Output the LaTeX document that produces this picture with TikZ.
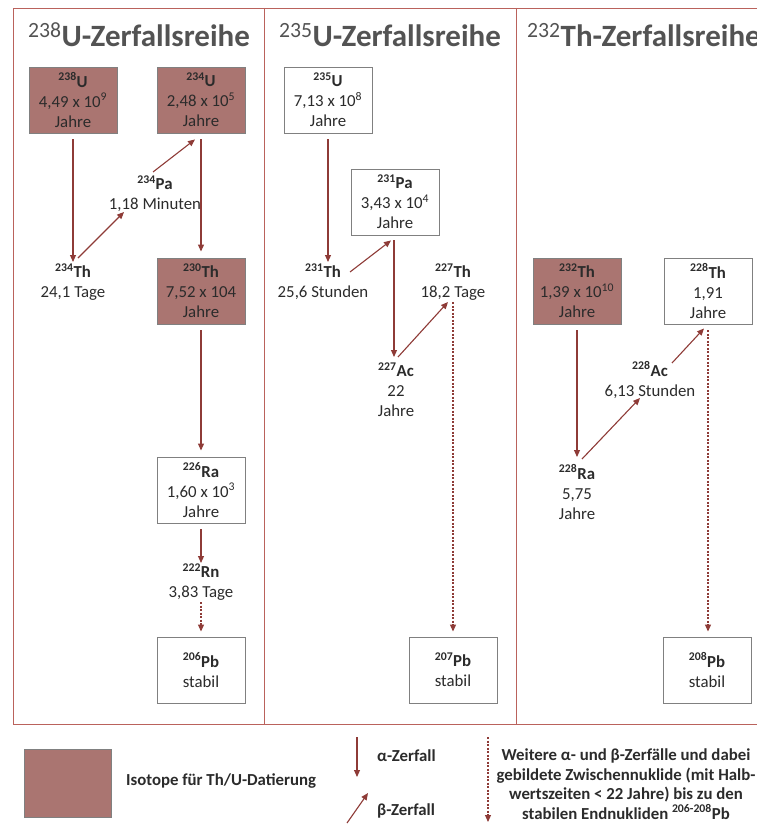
\documentclass[tikz,border=0pt]{standalone}
\usepackage{fontspec}
\setmainfont{Carlito}
\usepackage{tikz}
\usetikzlibrary{arrows.meta,calc}
\definecolor{zerfallRahmen}{HTML}{BA625C}
\definecolor{zerfallPfeil}{HTML}{8E3B37}
\definecolor{zerfallFuell}{HTML}{AA7571}
\definecolor{zerfallBoxRand}{HTML}{808080}
\definecolor{zerfallTitel}{HTML}{535353}
\definecolor{zerfallText}{HTML}{2B2B2B}
\newcommand{\nuk}[2]{\textbf{\textsuperscript{#1}#2}}

\begin{document}
\begin{tikzpicture}[x=1pt, y=-1pt,
  kasten/.style={draw=zerfallBoxRand, line width=0.9pt, fill=white, minimum width=88pt,
    minimum height=66pt, inner sep=0pt, align=center, text=zerfallText,
    font=\fontsize{16.8}{20}\selectfont},
  datiert/.style={kasten, fill=zerfallFuell},
  frei/.style={inner sep=0pt, align=center, text=zerfallText, font=\fontsize{16.8}{20}\selectfont},
  titel/.style={inner sep=0pt, text=zerfallTitel, font=\fontsize{31}{31}\selectfont\bfseries},
  legende/.style={inner sep=0pt, align=center, text=zerfallText, font=\fontsize{16.8}{19.5}\selectfont\bfseries},
  rahmen/.style={draw=zerfallRahmen, line width=0.9pt},
  pfeil/.style={draw=zerfallPfeil, line width=1.1pt, -{Triangle[length=7pt,width=6pt]}},
  weiter/.style={pfeil, dash pattern=on 2pt off 1.5pt},
]
  \useasboundingbox (0,0) rectangle (757,824);
  \clip (0,0) rectangle (757,824);

  % Rahmen und Spalten
  \draw[rahmen] (13,8) rectangle (800,724);
  \draw[rahmen] (264,8) -- (264,724);
  \draw[rahmen] (516,8) -- (516,724);

  % Titel
  \node[titel, anchor=base] (titelUa) at (139,47) {{\mdseries\textsuperscript{238}}U-Zerfallsreihe};
  \node[titel, anchor=base] (titelUb) at (390,47) {{\mdseries\textsuperscript{235}}U-Zerfallsreihe};
  \node[titel, anchor=base] (titelTh) at (644,47) {{\mdseries\textsuperscript{232}}Th-Zerfallsreihe};

  % 238U-Reihe
  \node[datiert] (u238) at (73,100) {\nuk{238}{U}\\4,49 x 10\textsuperscript{9}\\Jahre};
  \node[datiert] (u234) at (201,100) {\nuk{234}{U}\\2,48 x 10\textsuperscript{5}\\Jahre};
  \node[frei] (pa234) at (155,194) {\nuk{234}{Pa}\\1,18 Minuten};
  \node[frei] (th234) at (73,282) {\nuk{234}{Th}\\24,1 Tage};
  \node[datiert] (th230) at (201,291) {\nuk{230}{Th}\\7,52 x 104\\Jahre};
  \node[kasten] (ra226) at (201,490) {\nuk{226}{Ra}\\1,60 x 10\textsuperscript{3}\\Jahre};
  \node[frei] (rn222) at (201,582) {\nuk{222}{Rn}\\3,83 Tage};
  \node[kasten] (pb206) at (201,670) {\nuk{206}{Pb}\\stabil};

  \draw[pfeil] ($(u238.south)+(0,6)$) -- ($(th234.center)+(0,-20)$);
  \draw[pfeil] ($(th234.center)+(5,-24)$) -- ($(pa234.center)+(-31,18)$);
  \draw[pfeil] ($(pa234.center)+(-2,-22)$) -- ($(u234.south)+(-6,6)$);
  \draw[pfeil] ($(u234.south)+(0,6)$) -- ($(th230.north)+(0,-6)$);
  \draw[pfeil] ($(th230.south)+(0,6)$) -- ($(ra226.north)+(0,-6)$);
  \draw[pfeil] ($(ra226.south)+(0,6)$) -- ($(rn222.center)+(0,-19)$);
  \draw[weiter] ($(rn222.center)+(0,20)$) -- ($(pb206.north)+(0,-5)$);

  % 235U-Reihe
  \node[kasten] (u235) at (328,100) {\nuk{235}{U}\\7,13 x 10\textsuperscript{8}\\Jahre};
  \node[kasten] (pa231) at (395,202) {\nuk{231}{Pa}\\3,43 x 10\textsuperscript{4}\\Jahre};
  \node[frei] (th231) at (323,282) {\nuk{231}{Th}\\25,6 Stunden};
  \node[frei] (th227) at (453,282) {\nuk{227}{Th}\\18,2 Tage};
  \node[frei] (ac227) at (396,390) {\nuk{227}{Ac}\\22\\Jahre};
  \node[kasten] (pb207) at (453,670) {\nuk{207}{Pb}\\stabil};

  \draw[pfeil] ($(u235.south)+(0,6)$) -- ($(u235.south |- th231.center)+(0,-20)$);
  \draw[pfeil] ($(th231.center)+(27,-10)$) -- ($(pa231.south)+(-4,5)$);
  \draw[pfeil] ($(pa231.south)+(-1,5)$) -- ($(ac227.center)+(-2,-33)$);
  \draw[pfeil] ($(ac227.center)+(2,-33)$) -- ($(th227.center)+(-5,20)$);
  \draw[weiter] ($(th227.center)+(0,20)$) -- ($(pb207.north)+(0,-5)$);

  % 232Th-Reihe
  \node[datiert] (th232) at (577,291) {\nuk{232}{Th}\\1,39 x 10\textsuperscript{10}\\Jahre};
  \node[kasten] (th228) at (708,291) {\nuk{228}{Th}\\1,91\\Jahre};
  \node[frei] (ac228) at (650,380) {\nuk{228}{Ac}\\6,13 Stunden};
  \node[frei] (ra228) at (577,492) {\nuk{228}{Ra}\\5,75\\Jahre};
  \node[kasten] (pb208) at (707,670) {\nuk{208}{Pb}\\stabil};

  \draw[pfeil] ($(th232.south)+(0,6)$) -- ($(ra228.center)+(0,-35)$);
  \draw[pfeil] ($(ra228.center)+(5,-33)$) -- ($(ac228.center)+(-10,18)$);
  \draw[pfeil] ($(ac228.center)+(22,-17)$) -- ($(th228.south)+(-4,4)$);
  \draw[weiter] ($(th228.south)+(0,6)$) -- ($(th228.south |- pb208.north)+(0,-5)$);

  % Legende
  \node[datiert, minimum width=87pt, minimum height=68pt] (legFeld) at (67.5,783) {};
  \node[legende, anchor=west] (legFeldText) at (126,781) {Isotope für Th/U-Datierung};
  \coordinate (alphaA) at (357,737);
  \coordinate (alphaB) at (357,777);
  \draw[pfeil] (alphaA) -- (alphaB);
  \node[legende, anchor=west] (legAlpha) at (377,756) {α-Zerfall};
  \coordinate (betaA) at (347,823);
  \coordinate (betaB) at (368,793);
  \draw[pfeil] (betaA) -- (betaB);
  \node[legende, anchor=west] (legBeta) at (377,811) {β-Zerfall};
  \coordinate (restA) at (488,737);
  \coordinate (restB) at (488,822);
  \draw[weiter] (restA) -- (restB);
  \node[legende] (legRest) at (626,784) {Weitere α- und β-Zerfälle und dabei\\gebildete Zwischennuklide (mit Halb-\\wertszeiten < 22 Jahre) bis zu den\\stabilen Endnukliden \textsuperscript{206-208}Pb};
\end{tikzpicture}
\end{document}
